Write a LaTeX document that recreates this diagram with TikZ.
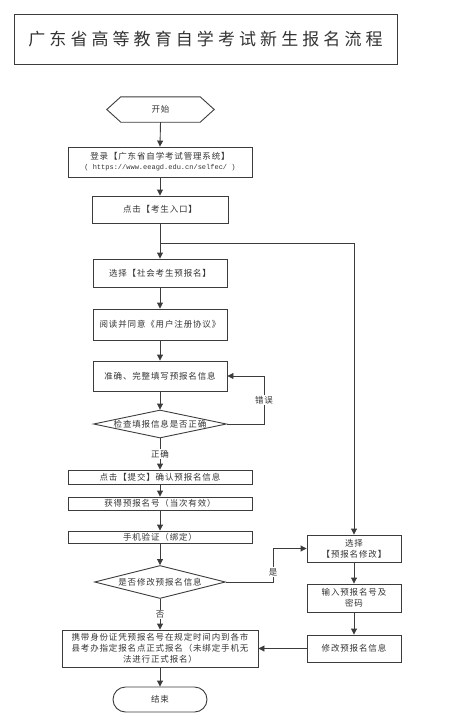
\documentclass[tikz,border=0pt]{standalone}
\usepackage{fontspec}
\setmainfont{Noto Sans CJK SC}
\newfontfamily\bodyf{Noto Sans CJK SC}[LetterSpace=10]
\newfontfamily\titlef{Noto Sans CJK SC}[LetterSpace=24]
\newfontfamily\urlf{Liberation Mono}
\usetikzlibrary{arrows.meta,shapes.geometric,calc}
\definecolor{ln}{HTML}{3C3C3C}
\definecolor{tx}{HTML}{333333}
\tikzset{
  box/.style={draw=ln, line width=0.9pt, inner sep=0pt, align=center, text=tx,
    font=\fontsize{8.5}{11}\bodyf},
  dia/.style={draw=ln, line width=0.9pt, shape=diamond, inner sep=0pt},
  arr/.style={draw=ln, line width=0.9pt, -{Triangle[length=6pt,width=6pt]}},
  con/.style={draw=ln, line width=0.9pt},
  lbl/.style={fill=white, inner sep=1pt, text=tx, font=\fontsize{8.5}{10}\bodyf}
}
\begin{document}
\begin{tikzpicture}[x=1pt,y=-1pt]
\useasboundingbox (0,0) rectangle (461,728);
% title
\node[draw=ln, line width=0.9pt, minimum width=383pt, minimum height=50pt, inner sep=0pt,
  text=tx, font=\fontsize{17}{20}\titlef] (title) at (205.5,39) {广东省高等教育自学考试新生报名流程};
% start
\node[minimum width=107pt, minimum height=25pt, inner sep=0pt, text=tx, font=\fontsize{8.5}{10}\bodyf] (start) at (160.5,109.5) {开始};
\draw[con] (start.west) -- ([xshift=14pt]start.north west) -- ([xshift=-14pt]start.north east)
  -- (start.east) -- ([xshift=-14pt]start.south east) -- ([xshift=14pt]start.south west) -- cycle;
% main column
\node[box, minimum width=184pt, minimum height=30pt] (login) at (160,162)
  {登录【广东省自学考试管理系统】\\[-1pt]{\urlf\fontsize{7}{9}\selectfont ( https://www.eeagd.edu.cn/selfec/ )}};
\node[box, minimum width=136pt, minimum height=27pt] (click) at (160,209.5) {点击【考生入口】};
\node[box, minimum width=134pt, minimum height=28pt] (select) at (160,273) {选择【社会考生预报名】};
\node[box, minimum width=134pt, minimum height=31pt] (read) at (160,324.5) {阅读并同意《用户注册协议》};
\node[box, minimum width=134pt, minimum height=30pt] (fill) at (160,376) {准确、完整填写预报名信息};
\node[dia, minimum width=133pt, minimum height=28pt,
  label={[text=tx, font=\fontsize{8.5}{10}\bodyf, name=d1t]center:检查填报信息是否正确}] (d1) at (160,424) {};
\node[box, minimum width=184pt, minimum height=14pt] (submit) at (160,477) {点击【提交】确认预报名信息};
\node[box, minimum width=184pt, minimum height=13pt] (obtain) at (160,503.5) {获得预报名号（当次有效）};
\node[box, minimum width=184pt, minimum height=12pt] (phone) at (160,537) {手机验证（绑定）};
\node[dia, minimum width=131pt, minimum height=33pt,
  label={[text=tx, font=\fontsize{8.5}{10}\bodyf, name=d2t]center:是否修改预报名信息}] (d2) at (160,582) {};
\node[box, minimum width=196pt, minimum height=37pt] (final) at (160,648.5)
  {携带身份证凭预报名号在规定时间内到各市\\县考办指定报名点正式报名（未绑定手机无\\法进行正式报名）};
\node[box, minimum width=94pt, minimum height=25pt, rounded corners=12.5pt] (end) at (160,699.5) {结束};
% right column
\node[box, minimum width=94pt, minimum height=27pt] (modsel) at (354,548.5) {选择\\【预报名修改】};
\node[box, minimum width=94pt, minimum height=28pt] (input) at (354,598) {输入预报名号及\\密码};
\node[box, minimum width=94pt, minimum height=27pt] (modinfo) at (354,648.5) {修改预报名信息};
% connectors
\coordinate (split) at (160,243);
\coordinate (errc) at (264,424);
\coordinate (yesc) at (273,582);
\draw[arr] (start.south) -- (login.north);
\draw[arr] (login.south) -- (click.north);
\draw[arr] (click.south) -- (select.north);
\draw[arr] (split) -| (modsel.north);
\draw[arr] (select.south) -- (read.north);
\draw[arr] (read.south) -- (fill.north);
\draw[arr] (fill.south) -- (d1.north);
\draw[arr] (d1.east) -- (errc) |- node[lbl, pos=0.25] (errl) {错误} (fill.east);
\draw[arr] (d1.south) -- node[lbl, pos=0.5] (okl) {正确} (submit.north);
\draw[arr] (submit.south) -- (obtain.north);
\draw[arr] (obtain.south) -- (phone.north);
\draw[arr] (phone.south) -- (d2.north);
\draw[arr] (d2.east) -- (yesc) |- node[lbl, pos=0.15] (yesl) {是} (modsel.west);
\draw[arr] (d2.south) -- node[lbl, pos=0.5] (nol) {否} (final.north);
\draw[arr] (modsel.south) -- (input.north);
\draw[arr] (input.south) -- (modinfo.north);
\draw[arr] (modinfo.west) -- (final.east);
\draw[arr] (final.south) -- (end.north);
\end{tikzpicture}
\end{document}
